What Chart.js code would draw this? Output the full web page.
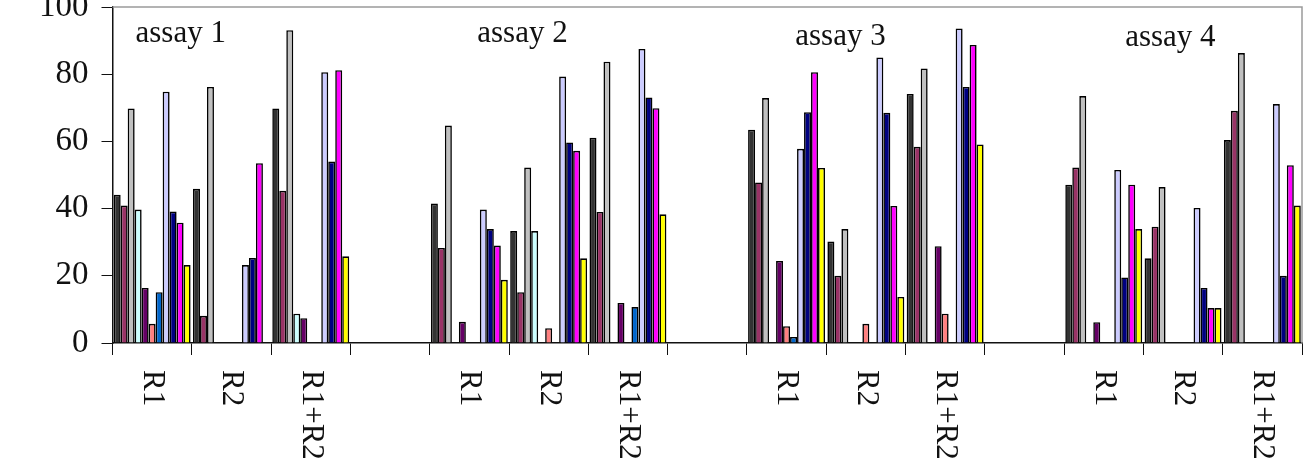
<!DOCTYPE html>
<html>
<head>
<meta charset="utf-8">
<script src="https://cdn.jsdelivr.net/npm/chart.js@4/dist/chart.umd.min.js"></script>
<style>
html,body{margin:0;padding:0;background:#fff;}
#wrap{width:1308px;height:468px;position:relative;}
</style>
</head>
<body>
<div id="wrap"><canvas id="c" width="1308" height="468"></canvas></div>
<script>
// Categories (blank entries are the gaps between assays)
const categories = ['R1','R2','R1+R2','', 'R1','R2','R1+R2','', 'R1','R2','R1+R2','', 'R1','R2','R1+R2'];
const assayLabels = ['assay 1','assay 2','assay 3','assay 4'];
const yTicks = [0,20,40,60,80,100];

// 11 series, values per category (null = no bar)
const s1  = [44.1, 45.9, 69.8, null, 41.5, 33.3, 61.1, null, 63.5, 30.2, 74.1, null, 47.1, 25.2, 60.4];
const s2  = [40.9,  8.1, 45.3, null, 28.3, 15.1, 39.0, null, 47.8, 20.0, 58.4, null, 52.2, 34.6, 69.1];
const s3  = [69.8, 76.2, 93.1, null, 64.7, 52.2, 83.7, null, 72.9, 33.9, 81.7, null, 73.5, 46.4, 86.3];
const s4  = [39.7, null,  8.7, null, null, 33.3, null, null, null, null, null, null, null, null, null];
const s5  = [16.4, null,  7.4, null,  6.3, null, 11.9, null, 24.4, null, 28.8, null,  6.2, null, null];
const s6  = [ 5.7, null, null, null, null,  4.4, null, null,  5.0,  5.7,  8.7, null, null, null, null];
const s7  = [15.1, null, null, null, null, null, 10.7, null,  1.8, null, null, null, null, null, null];
const s8  = [74.8, 23.2, 80.6, null, 39.7, 79.3, 87.5, null, 57.8, 85.0, 93.6, null, 51.5, 40.2, 71.1];
const s9  = [39.1, 25.3, 54.0, null, 33.9, 59.7, 73.1, null, 68.7, 68.5, 76.2, null, 19.5, 16.4, 20.0];
const s10 = [35.8, 53.5, 81.2, null, 29.0, 57.2, 69.9, null, 80.6, 40.8, 88.7, null, 47.1, 10.4, 52.9];
const s11 = [23.2, null, 25.8, null, 18.8, 25.2, 38.3, null, 52.1, 13.7, 59.1, null, 33.9, 10.4, 40.9];

const seriesValues = [s1,s2,s3,s4,s5,s6,s7,s8,s9,s10,s11];
const seriesColors = ['#333333','#993366','#C0C0C0','#CCFFFF','#660066','#FF8080','#0066CC','#CCCCFF','#000080','#FF00FF','#FFFF00'];

const SERIF = '"Liberation Serif","Times New Roman",serif';

const datasets = seriesValues.map((vals, i) => ({
  label: 'Series ' + (i + 1),
  data: vals,
  backgroundColor: seriesColors[i],
  borderColor: '#000',
  borderWidth: 1.6,
  borderSkipped: 'start',
  categoryPercentage: 0.97,
  barPercentage: 1.0
}));

const decor = {
  id: 'decor',
  afterDraw(chart) {
    const ctx = chart.ctx;
    const a = chart.chartArea;
    const xs = chart.scales.x;
    ctx.save();
    // plot-area frame (top and right, gray)
    ctx.strokeStyle = '#9a9a9a';
    ctx.lineWidth = 1.5;
    ctx.beginPath();
    ctx.moveTo(a.left, a.top);
    ctx.lineTo(a.right, a.top);
    ctx.lineTo(a.right, a.bottom);
    ctx.stroke();

    // rotated category labels (reading top to bottom)
    ctx.fillStyle = '#111';
    ctx.font = '31px ' + SERIF;
    ctx.textAlign = 'left';
    ctx.textBaseline = 'middle';
    categories.forEach((lab, i) => {
      if (!lab) return;
      const x = xs.getPixelForValue(i);
      ctx.save();
      ctx.translate(x, a.bottom + 27);
      ctx.rotate(Math.PI / 2);
      ctx.fillText(lab, 0, 0);
      ctx.restore();
    });

    // assay annotations
    const anchors = [0.36, 4.67, 8.68, 12.84];
    const baselines = [42, 42, 45, 46];
    ctx.font = '31px ' + SERIF;
    ctx.textAlign = 'center';
    ctx.textBaseline = 'alphabetic';
    assayLabels.forEach((t, k) => {
      ctx.fillText(t, xs.getPixelForValue(anchors[k]), baselines[k]);
    });
    ctx.restore();
  }
};

new Chart(document.getElementById('c'), {
  type: 'bar',
  data: { labels: categories, datasets },
  options: {
    responsive: false,
    devicePixelRatio: 1,
    animation: false,
    layout: { padding: { top: 7, right: 6, left: 0, bottom: 0 } },
    plugins: { legend: { display: false }, tooltip: { enabled: false } },
    scales: {
      x: {
        type: 'category',
        offset: true,
        grid: { offset: true, drawOnChartArea: false, drawTicks: true, tickLength: 12, color: '#111', lineWidth: 1 },
        border: { display: true, color: '#111', width: 1.5 },
        ticks: { display: false },
        afterFit(scale) { scale.height = 125; scale.paddingLeft = 0; scale.paddingRight = 0; }
      },
      y: {
        min: 0, max: 100,
        afterBuildTicks(scale) { scale.ticks = yTicks.map(v => ({ value: v })); },
        ticks: { font: { family: SERIF, size: 33 }, color: '#111', padding: 13 },
        grid: { drawOnChartArea: false, drawTicks: true, tickLength: 11, color: '#111', lineWidth: 1 },
        border: { display: true, color: '#111', width: 1.5 },
        afterFit(scale) { scale.width = 112.5; scale.paddingTop = 0; scale.paddingBottom = 0; }
      }
    }
  },
  plugins: [decor]
});
</script>
</body>
</html>
